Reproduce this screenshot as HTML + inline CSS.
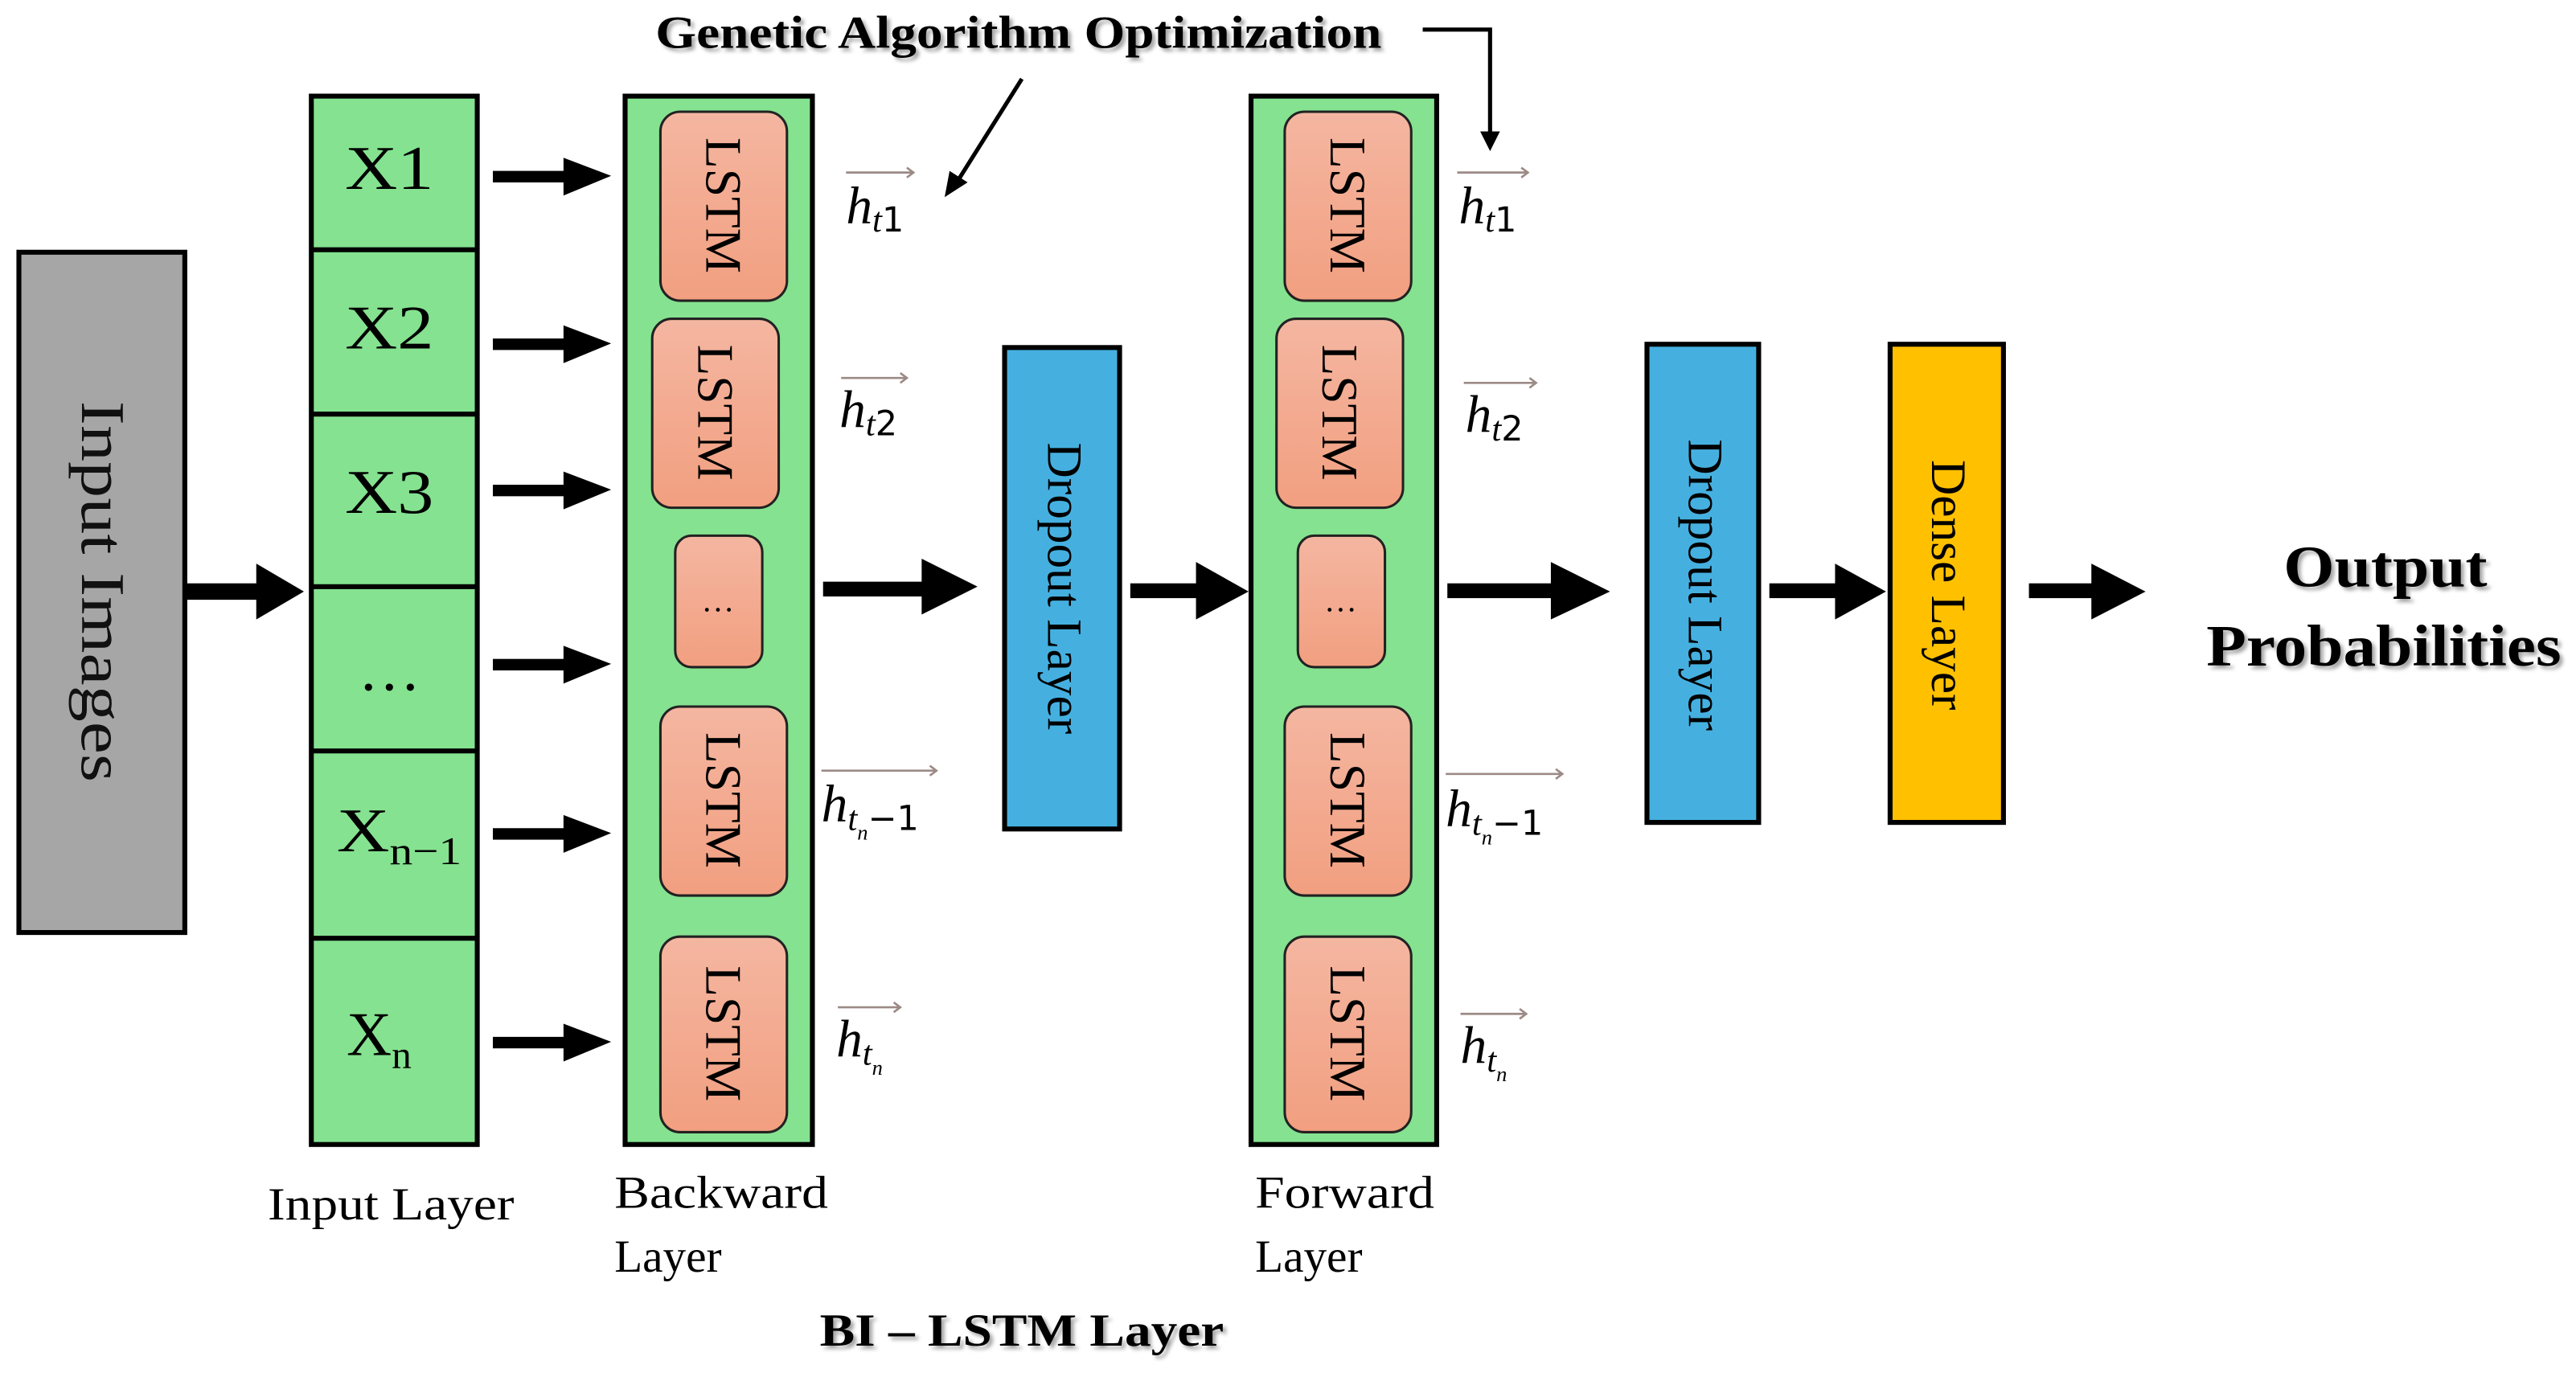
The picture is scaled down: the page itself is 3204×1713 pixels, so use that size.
<!DOCTYPE html>
<html><head><meta charset="utf-8"><style>
html,body{margin:0;padding:0;background:#fff;}
svg{display:block;}
text{font-family:"Liberation Serif",serif;}
</style></head><body>
<svg width="3204" height="1713" viewBox="0 0 1568 838" preserveAspectRatio="none" xmlns="http://www.w3.org/2000/svg">
<defs>
<linearGradient id="g" x1="0" y1="0" x2="0" y2="1"><stop offset="0" stop-color="#f4b6a1"/><stop offset="1" stop-color="#f29f80"/></linearGradient>
<filter id="sh" x="-5%" y="-20%" width="110%" height="150%"><feDropShadow dx="2" dy="2" stdDeviation="1.2" flood-color="#000" flood-opacity="0.35"/></filter>
</defs>
<rect width="1568" height="838" fill="#fff"/>

<text x="620" y="29" font-size="28" font-weight="bold" text-anchor="middle" textLength="442" lengthAdjust="spacingAndGlyphs" filter="url(#sh)">Genetic Algorithm Optimization</text>
<line x1="622" y1="48" x2="583" y2="110" stroke="#000" stroke-width="2.5"/>
<polygon points="575,120 578,104 589,111" fill="#000"/>
<polyline points="866,18 907,18 907,80" fill="none" stroke="#000" stroke-width="2.5"/>
<polygon points="901,80 913,80 907,92" fill="#000"/>

<rect x="11.5" y="153.5" width="101" height="414" fill="#a6a6a6" stroke="#000" stroke-width="3"/>
<text transform="translate(50,360) rotate(90)" font-size="38" text-anchor="middle" fill="#111" textLength="232" lengthAdjust="spacingAndGlyphs">Input Images</text>

<rect x="189.5" y="58.5" width="101" height="638" fill="#85e290" stroke="#000" stroke-width="3"/>
<g stroke="#000" stroke-width="3">
<line x1="189" y1="152" x2="291" y2="152"/><line x1="189" y1="252" x2="291" y2="252"/>
<line x1="189" y1="357" x2="291" y2="357"/><line x1="189" y1="457" x2="291" y2="457"/>
<line x1="189" y1="571" x2="291" y2="571"/></g>
<g font-size="38" text-anchor="middle">
<text x="237" y="115" textLength="54" lengthAdjust="spacingAndGlyphs">X1</text>
<text x="237" y="212" textLength="54" lengthAdjust="spacingAndGlyphs">X2</text>
<text x="237" y="312" textLength="54" lengthAdjust="spacingAndGlyphs">X3</text>
<text x="237" y="420">…</text>
</g>
<g font-size="38">
<text x="205" y="518" textLength="76" lengthAdjust="spacingAndGlyphs">X<tspan font-size="24" dy="8">n−1</tspan></text>
<text x="211" y="642">X<tspan font-size="24" dy="8">n</tspan></text>
</g>

<g fill="#000">
<rect x="113" y="355" width="45" height="10"/><polygon points="156,343 185,360 156,377"/>
<rect x="300" y="104" width="45" height="7"/><polygon points="343,96 372,107 343,119"/>
<rect x="300" y="206" width="45" height="7"/><polygon points="343,198 372,209 343,221"/>
<rect x="300" y="295" width="45" height="7"/><polygon points="343,287 372,298 343,310"/>
<rect x="300" y="401" width="45" height="7"/><polygon points="343,393 372,404 343,416"/>
<rect x="300" y="504" width="45" height="7"/><polygon points="343,496 372,507 343,519"/>
<rect x="300" y="631" width="45" height="7"/><polygon points="343,623 372,634 343,646"/>
<rect x="501" y="354" width="62" height="9"/><polygon points="561,340 595,357 561,374"/>
<rect x="688" y="355" width="42" height="9"/><polygon points="728,342 760,360 728,377"/>
<rect x="881" y="355" width="65" height="9"/><polygon points="944,342 980,360 944,377"/>
<rect x="1077" y="355" width="42" height="9"/><polygon points="1117,343 1148,360 1117,377"/>
<rect x="1235" y="355" width="40" height="9"/><polygon points="1273,343 1306,360 1273,377"/>
</g>

<rect x="380.5" y="58.5" width="114" height="638" fill="#85e290" stroke="#000" stroke-width="3"/>
<g fill="url(#g)" stroke="#222" stroke-width="1.5">
<rect x="402" y="68" width="77" height="115" rx="12"/>
<rect x="397" y="194" width="77" height="115" rx="12"/>
<rect x="411" y="326" width="53" height="80" rx="10"/>
<rect x="402" y="430" width="77" height="115" rx="12"/>
<rect x="402" y="570" width="77" height="119" rx="12"/>
</g>
<g font-size="31" text-anchor="middle">
<text transform="translate(430,125) rotate(90)">LSTM</text>
<text transform="translate(425,251) rotate(90)">LSTM</text>
<text x="437" y="372" font-size="20">…</text>
<text transform="translate(430,487) rotate(90)">LSTM</text>
<text transform="translate(430,629) rotate(90)">LSTM</text>
</g>

<rect x="611.5" y="211.5" width="70" height="293" fill="#45b0e0" stroke="#000" stroke-width="3"/>
<text transform="translate(638,358) rotate(90)" font-size="30" text-anchor="middle">Dropout Layer</text>

<rect x="761.5" y="58.5" width="113" height="638" fill="#85e290" stroke="#000" stroke-width="3"/>
<g fill="url(#g)" stroke="#222" stroke-width="1.5">
<rect x="782" y="68" width="77" height="115" rx="12"/>
<rect x="777" y="194" width="77" height="115" rx="12"/>
<rect x="790" y="326" width="53" height="80" rx="10"/>
<rect x="782" y="430" width="77" height="115" rx="12"/>
<rect x="782" y="570" width="77" height="119" rx="12"/>
</g>
<g font-size="31" text-anchor="middle">
<text transform="translate(810,125) rotate(90)">LSTM</text>
<text transform="translate(805,251) rotate(90)">LSTM</text>
<text x="816" y="372" font-size="20">…</text>
<text transform="translate(810,487) rotate(90)">LSTM</text>
<text transform="translate(810,629) rotate(90)">LSTM</text>
</g>

<rect x="1002.5" y="209.5" width="68" height="291" fill="#45b0e0" stroke="#000" stroke-width="3"/>
<text transform="translate(1028,356) rotate(90)" font-size="30" text-anchor="middle">Dropout Layer</text>
<rect x="1150.5" y="209.5" width="69" height="291" fill="#ffc000" stroke="#000" stroke-width="3"/>
<text transform="translate(1176,356) rotate(90)" font-size="30" text-anchor="middle">Dense Layer</text>

<g font-size="36" font-weight="bold" text-anchor="middle" filter="url(#sh)">
<text x="1452" y="357" textLength="124" lengthAdjust="spacingAndGlyphs">Output</text>
<text x="1451" y="405" textLength="216" lengthAdjust="spacingAndGlyphs">Probabilities</text>
</g>

<g>
<g stroke="#9c8a86" stroke-width="1.3" fill="none">
<path d="M515,105 H556 M552,102 L556,105 L552,108"/>
<path d="M512,230 H552 M548,227 L552,230 L548,233"/>
<path d="M500,469 H570 M566,466 L570,469 L566,472"/>
<path d="M510,613 H548 M544,610 L548,613 L544,616"/>
<path d="M887,105 H930 M926,102 L930,105 L926,108"/>
<path d="M891,233 H935 M931,230 L935,233 L931,236"/>
<path d="M880,471 H951 M947,468 L951,471 L947,474"/>
<path d="M889,617 H929 M925,614 L929,617 L925,620"/>
</g>
<g font-size="32" font-family="DejaVu Serif,serif">
<text x="515" y="136"><tspan font-style="italic">h</tspan><tspan font-size="21" dy="5" font-style="italic">t</tspan><tspan font-size="21" font-family="DejaVu Sans,sans-serif">1</tspan></text>
<text x="511" y="260"><tspan font-style="italic">h</tspan><tspan font-size="21" dy="5" font-style="italic">t</tspan><tspan font-size="21" font-family="DejaVu Sans,sans-serif">2</tspan></text>
<text x="500" y="500"><tspan font-style="italic">h</tspan><tspan font-size="21" dy="5" font-style="italic">t</tspan><tspan font-size="13" dy="6" font-style="italic">n</tspan><tspan font-size="21" dy="-6" font-family="DejaVu Sans,sans-serif">−1</tspan></text>
<text x="509" y="643"><tspan font-style="italic">h</tspan><tspan font-size="21" dy="5" font-style="italic">t</tspan><tspan font-size="13" dy="6" font-style="italic">n</tspan></text>
<text x="888" y="136"><tspan font-style="italic">h</tspan><tspan font-size="21" dy="5" font-style="italic">t</tspan><tspan font-size="21" font-family="DejaVu Sans,sans-serif">1</tspan></text>
<text x="892" y="263"><tspan font-style="italic">h</tspan><tspan font-size="21" dy="5" font-style="italic">t</tspan><tspan font-size="21" font-family="DejaVu Sans,sans-serif">2</tspan></text>
<text x="880" y="503"><tspan font-style="italic">h</tspan><tspan font-size="21" dy="5" font-style="italic">t</tspan><tspan font-size="13" dy="6" font-style="italic">n</tspan><tspan font-size="21" dy="-6" font-family="DejaVu Sans,sans-serif">−1</tspan></text>
<text x="889" y="647"><tspan font-style="italic">h</tspan><tspan font-size="21" dy="5" font-style="italic">t</tspan><tspan font-size="13" dy="6" font-style="italic">n</tspan></text>
</g>
</g>

<g font-size="28">
<text x="163" y="742" textLength="150" lengthAdjust="spacingAndGlyphs">Input Layer</text>
<text x="374" y="735" textLength="130" lengthAdjust="spacingAndGlyphs">Backward</text>
<text x="374" y="774">Layer</text>
<text x="764" y="735" textLength="109" lengthAdjust="spacingAndGlyphs">Forward</text>
<text x="764" y="774">Layer</text>
</g>
<text x="622" y="819" font-size="28" font-weight="bold" text-anchor="middle" textLength="246" lengthAdjust="spacingAndGlyphs" filter="url(#sh)">BI – LSTM Layer</text>
</svg>
</body></html>
